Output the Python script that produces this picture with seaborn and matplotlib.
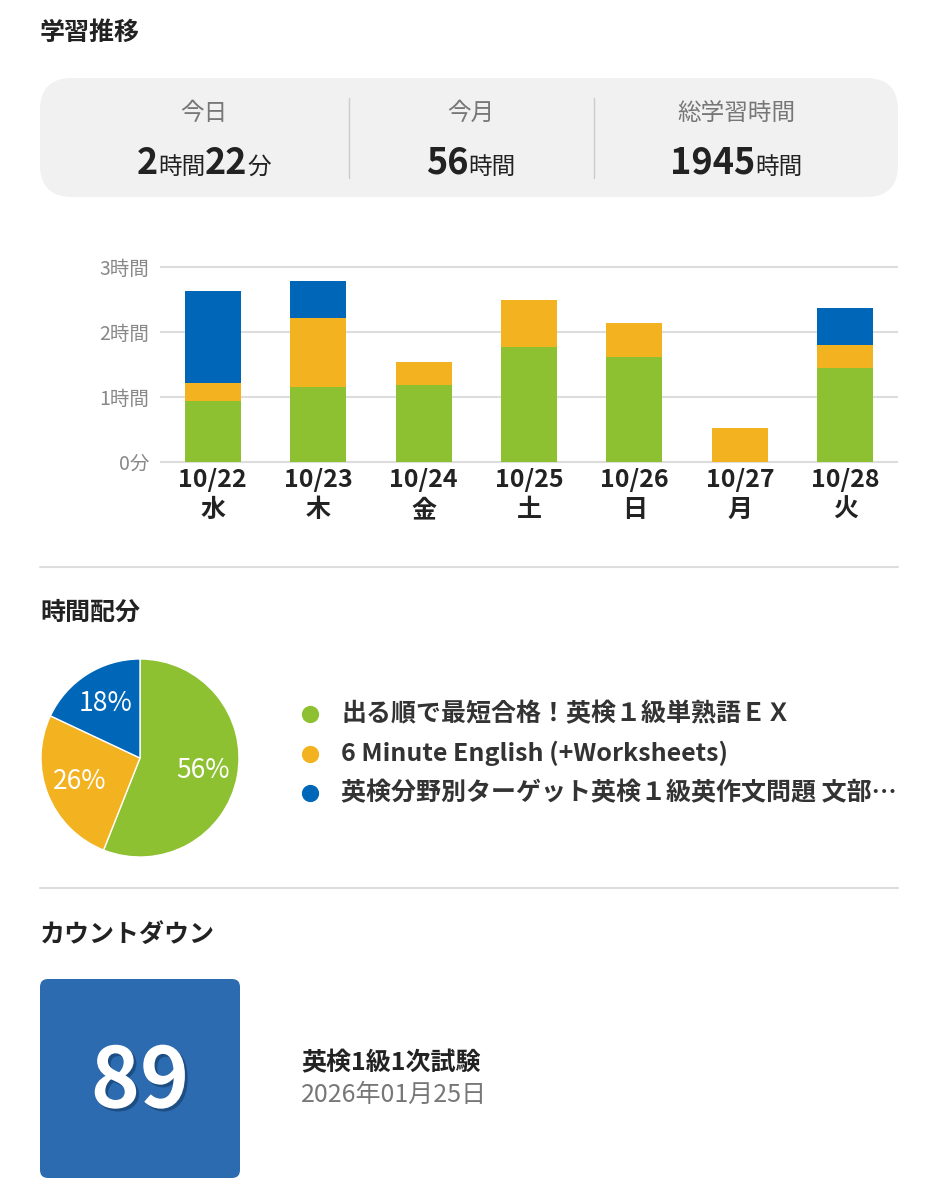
import pandas as pd
import matplotlib.pyplot as plt
import seaborn as sns
from matplotlib.patches import FancyBboxPatch
import matplotlib.patheffects as pe

# データ
days = ['10/22', '10/23', '10/24', '10/25', '10/26', '10/27', '10/28']
weekdays = ['水', '木', '金', '土', '日', '月', '火']
vocab_min = [56, 69, 71, 106, 97, 0, 87]      # 出る順で最短合格！
english_min = [17, 64, 21, 44, 31, 31, 21]    # 6 Minute English
writing_min = [85, 34, 0, 0, 0, 0, 34]        # 英作文問題

books = ['出る順で最短合格！英検１級単熟語ＥＸ',
         '6 Minute English (+Worksheets)',
         '英検分野別ターゲット英検１級英作文問題 文部…']
share_pct = [56, 26, 18]

summary_labels = ['今日', '今月', '総学習時間']
today_hm = (2, 22)
month_hours = 56
total_hours = 1945

countdown_days = 89
exam_name = '英検1級1次試験'
exam_date = '2026年01月25日'

colors = ['#8dc131', '#f3b21f', '#0067b8']
DARK = '#222222'
GREY = '#777777'

sns.set_theme(style='white')
plt.rcParams['font.family'] = ['Noto Sans CJK JP', 'DejaVu Sans']

W, H = 939, 1200
fig = plt.figure(figsize=(W / 100, H / 100), dpi=100)

# 背景用の軸 (ピクセル座標)
bg = fig.add_axes([0, 0, 1, 1])
bg.set_xlim(0, W)
bg.set_ylim(H, 0)
bg.axis('off')


def fx(px):
    return px / W


def fy(py):
    return 1 - py / H


# 見出し
for title, y in [('学習推移', 33), ('時間配分', 613), ('カウントダウン', 935)]:
    bg.text(40, y, title, fontsize=18, fontweight='bold', color=DARK, va='center', ha='left')

# 区切り線
for y in [567, 888]:
    bg.plot([40, 898], [y, y], color='#dddddd', lw=1.5)

# サマリーボックス
bg.add_patch(FancyBboxPatch((40, 78), 858, 119, boxstyle='round,pad=0,rounding_size=32',
                            fc='#f1f1f1', ec='none'))
for x in [349, 594]:
    bg.plot([x, x], [98, 178], color='#cccccc', lw=1)

col_centers = [204, 471, 736]
summary_values = [
    [(str(today_hm[0]), True), ('時間', False), (str(today_hm[1]), True), ('分', False)],
    [(str(month_hours), True), ('時間', False)],
    [(str(total_hours), True), ('時間', False)],
]
for cx, lab in zip(col_centers, summary_labels):
    bg.text(cx, 113, lab, fontsize=17, color=GREY, ha='center', va='center')

fig.canvas.draw()
renderer = fig.canvas.get_renderer()
for cx, pieces in zip(col_centers, summary_values):
    texts = []
    for s, big in pieces:
        t = bg.text(0, 174, s, fontsize=26 if big else 17,
                    fontweight='bold' if big else 'normal', color=DARK,
                    ha='left', va='baseline')
        texts.append(t)
    widths = [t.get_window_extent(renderer).width for t in texts]
    x = cx - sum(widths) / 2
    for t, w in zip(texts, widths):
        t.set_x(x)
        x += w

# 積み上げ棒グラフ
df = pd.DataFrame({
    'label': [f'{d}\n{w}' for d, w in zip(days, weekdays)],
    'vocab': vocab_min,
    'english': english_min,
    'writing': writing_min,
})
df['lvl1'] = df['vocab']
df['lvl2'] = df['vocab'] + df['english']
df['lvl3'] = df['lvl2'] + df['writing']

ymin, ymax = -2, 185
px_per_min = 195 / 180
ax_bottom = 462 + (0 - ymin) * px_per_min
ax_top = 462 - ymax * px_per_min
ax = fig.add_axes([fx(160), fy(ax_bottom), fx(898) - fx(160), fy(ax_top) - fy(ax_bottom)])
ax.set_axisbelow(True)

for col, c in [('lvl3', colors[2]), ('lvl2', colors[1]), ('lvl1', colors[0])]:
    sns.barplot(data=df, x='label', y=col, color=c, width=0.53, saturation=1,
                linewidth=0, ax=ax)

ax.set_xlim(-0.5, 6.5)
ax.set_ylim(ymin, ymax)
ax.set_yticks([0, 60, 120, 180])
ax.set_yticklabels(['0分', '1時間', '2時間', '3時間'], fontsize=14, color='#888888')
ax.yaxis.grid(True, color='#dddddd', lw=1.5)
ax.xaxis.grid(False)
ax.tick_params(axis='y', length=0, pad=8)
ax.tick_params(axis='x', length=0, pad=3)
for lbl in ax.get_xticklabels():
    lbl.set_fontsize(18)
    lbl.set_fontweight('bold')
    lbl.set_color(DARK)
    lbl.set_linespacing(1.3)
ax.set_xlabel('')
ax.set_ylabel('')
sns.despine(ax=ax, left=True, bottom=True)

# 円グラフ
pax = fig.add_axes([fx(40), fy(858), fx(240) - fx(40), fy(658) - fy(858)])
wedges, _, autotexts = pax.pie(share_pct, colors=colors, startangle=90, counterclock=False,
                               autopct='%d%%', pctdistance=0.65, radius=1,
                               wedgeprops=dict(edgecolor='white', linewidth=1))
pax.set_xlim(-1.01, 1.01)
pax.set_ylim(-1.01, 1.01)
for t in autotexts:
    t.set_color('white')
    t.set_fontsize(19)

# 凡例
for i, (name, c) in enumerate(zip(books, colors)):
    y = 714 + i * 39.5
    bg.scatter([310], [y], s=130, color=c, zorder=3)
    bg.text(341, y, name, fontsize=18, fontweight='bold', color='#333333', va='center', ha='left')

# カウントダウン
bg.add_patch(FancyBboxPatch((40, 979), 200, 199, boxstyle='round,pad=0,rounding_size=8',
                            fc='#2d6bb0', ec='none'))
bg.text(140, 1083, str(countdown_days), fontsize=60, fontweight='bold', color='white',
        ha='center', va='center',
        path_effects=[pe.withSimplePatchShadow(offset=(2, -2), shadow_rgbFace='#123a66', alpha=0.6)])
bg.text(301, 1063, exam_name, fontsize=18, fontweight='bold', color=DARK, ha='left', va='center')
bg.text(301, 1095, exam_date, fontsize=18, color=GREY, ha='left', va='center')

fig.savefig('out.png', dpi=100)
